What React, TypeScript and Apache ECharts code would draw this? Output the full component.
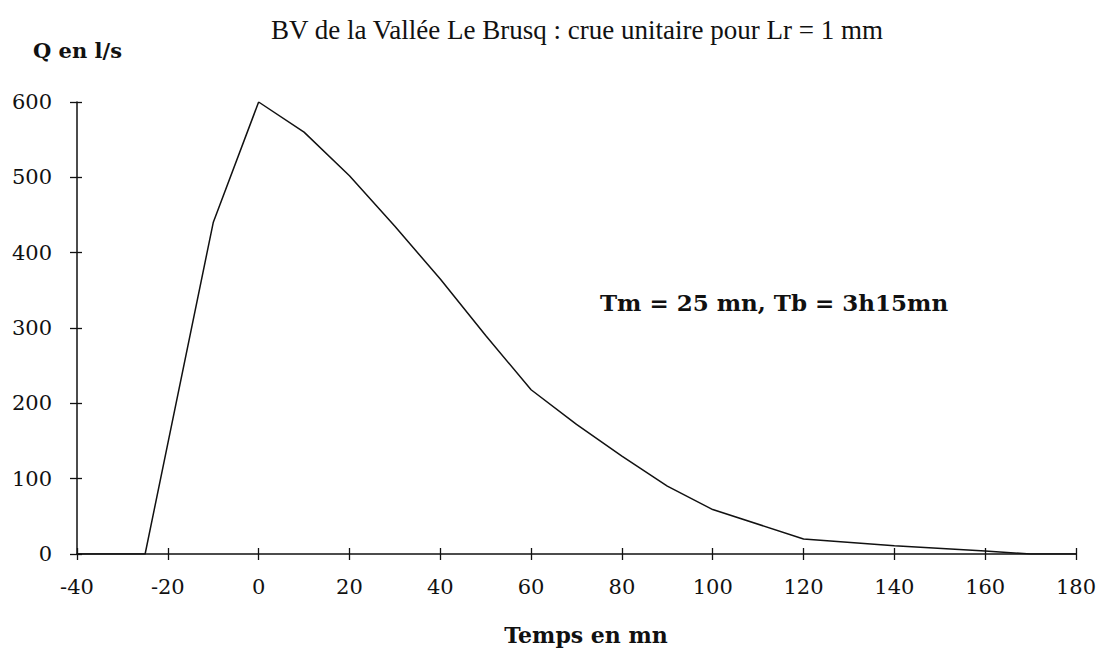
import React, { useEffect, useRef } from "react";
import * as echarts from "echarts";

const timeMin: number[] = [-40, -25, -10, 0, 10, 20, 30, 40, 50, 60, 70, 80, 90, 100, 120, 140, 160, 170, 180];
const discharge: number[] = [0, 0, 440, 600, 560, 502, 435, 365, 290, 218, 172, 130, 90, 59, 20, 11, 4, 0, 0];
const xTicks = { min: -40, max: 180, interval: 20 };
const yTicks = { min: 0, max: 600, interval: 100 };
const titleText = "BV de la Vallée Le Brusq : crue unitaire pour Lr = 1 mm";
const yName = "Q en l/s";
const xName = "Temps en mn";
const note = "Tm = 25 mn, Tb = 3h15mn";

export default function App() {
  const ref = useRef<HTMLDivElement>(null);
  useEffect(() => {
    if (!ref.current) return;
    const chart = echarts.init(ref.current, null, { renderer: "svg" });
    const serif = "DejaVu Serif";
    const axisLine = { show: true, onZero: false, lineStyle: { color: "#111", width: 1.5 } };
    const tickStyle = { color: "#111", width: 1.3 };
    chart.setOption({
      animation: false,
      backgroundColor: "#fff",
      title: {
        text: titleText,
        left: 572,
        top: 11,
        textAlign: "center",
        textStyle: { fontFamily: "Liberation Serif", fontSize: 27, fontWeight: "normal", color: "#111" },
      },
      grid: { left: 77, right: 26, top: 102, bottom: 99 },
      xAxis: [
        {
          type: "value",
          ...xTicks,
          axisLine,
          axisTick: { show: true, length: 6, lineStyle: tickStyle },
          axisLabel: { margin: 22, fontFamily: serif, fontSize: 21, color: "#111" },
          splitLine: { show: false },
        },
        {
          type: "value",
          ...xTicks,
          position: "bottom",
          axisLine: { show: false, onZero: false },
          axisTick: { show: true, inside: true, length: 6, lineStyle: tickStyle },
          axisLabel: { show: false },
          splitLine: { show: false },
        },
      ],
      yAxis: [
        {
          type: "value",
          ...yTicks,
          axisLine,
          axisTick: { show: true, length: 7, lineStyle: tickStyle },
          axisLabel: { margin: 25, fontFamily: serif, fontSize: 21, color: "#111" },
          splitLine: { show: false },
        },
        {
          type: "value",
          ...yTicks,
          position: "left",
          axisLine: { show: false, onZero: false },
          axisTick: { show: true, inside: true, length: 5, lineStyle: tickStyle },
          axisLabel: { show: false },
          splitLine: { show: false },
        },
      ],
      series: [
        {
          type: "line",
          data: timeMin.map((t, i) => [t, discharge[i]]),
          showSymbol: false,
          lineStyle: { color: "#111", width: 1.5 },
          z: 3,
        },
      ],
      graphic: [
        {
          type: "text",
          left: 33,
          top: 40,
          style: { text: yName, fontFamily: serif, fontSize: 21, fontWeight: "bold", fill: "#111" },
        },
        {
          type: "text",
          x: 586,
          y: 624,
          style: { text: xName, fontFamily: serif, fontSize: 22, fontWeight: "bold", fill: "#111", align: "center", verticalAlign: "top" },
        },
        {
          type: "text",
          left: 600,
          top: 291,
          style: { text: note, fontFamily: serif, fontSize: 23, fontWeight: "bold", fill: "#111" },
        },
      ],
    });
    return () => chart.dispose();
  }, []);
  return <div ref={ref} style={{ width: 1102, height: 653, position: "absolute", left: 0, top: 0 }} />;
}
